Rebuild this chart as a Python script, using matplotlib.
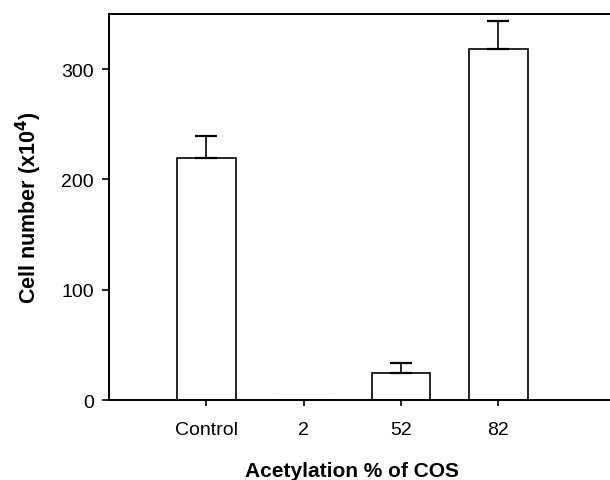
import matplotlib.pyplot as plt
import numpy as np

plt.rcParams['font.family'] = ['Liberation Sans', 'DejaVu Sans']

categories = ['Control', '2', '52', '82']
cell_number = [219, 0, 24.5, 318]
cell_err = [20, 0, 9, 26]

fig = plt.figure(figsize=(6.10, 4.81), dpi=100)
ax = fig.add_axes([0.1787, 0.1663, 0.83, 0.8025])

x = np.arange(len(categories))
vals = np.array(cell_number)
errs = np.array(cell_err)
ax.bar(x, vals, width=0.6, color='white', edgecolor='black', linewidth=1.2, zorder=2)
# upward-only error bars, skip the empty group (no cap drawn there)
m = errs > 0
ax.errorbar(x[m], vals[m], yerr=[np.zeros(m.sum()), errs[m]], fmt='none',
            ecolor='black', elinewidth=1.2, capsize=8, capthick=1.6, zorder=3)

ax.set_xlim(-1, 4.2)
ax.set_ylim(0, 350)
ax.set_yticks([0, 100, 200, 300])
ax.set_xticks(x)
ax.set_xticklabels(categories)

ax.spines['right'].set_visible(False)
for s in ['left', 'top', 'bottom']:
    ax.spines[s].set_linewidth(1.4)

ax.tick_params(axis='y', direction='out', length=5, width=1.2, pad=6, labelsize=14)
ax.tick_params(axis='x', direction='out', length=4, width=1.2, pad=11, labelsize=14)

ax.set_ylabel('Cell number (x10$^{\\mathbf{4}}$)', fontsize=15.5, fontweight='bold', labelpad=12)
ax.set_xlabel('Acetylation % of COS', fontsize=15, fontweight='bold', labelpad=17)
ax.xaxis.label.set_x(0.48)

fig.savefig('out.png', dpi=100)
